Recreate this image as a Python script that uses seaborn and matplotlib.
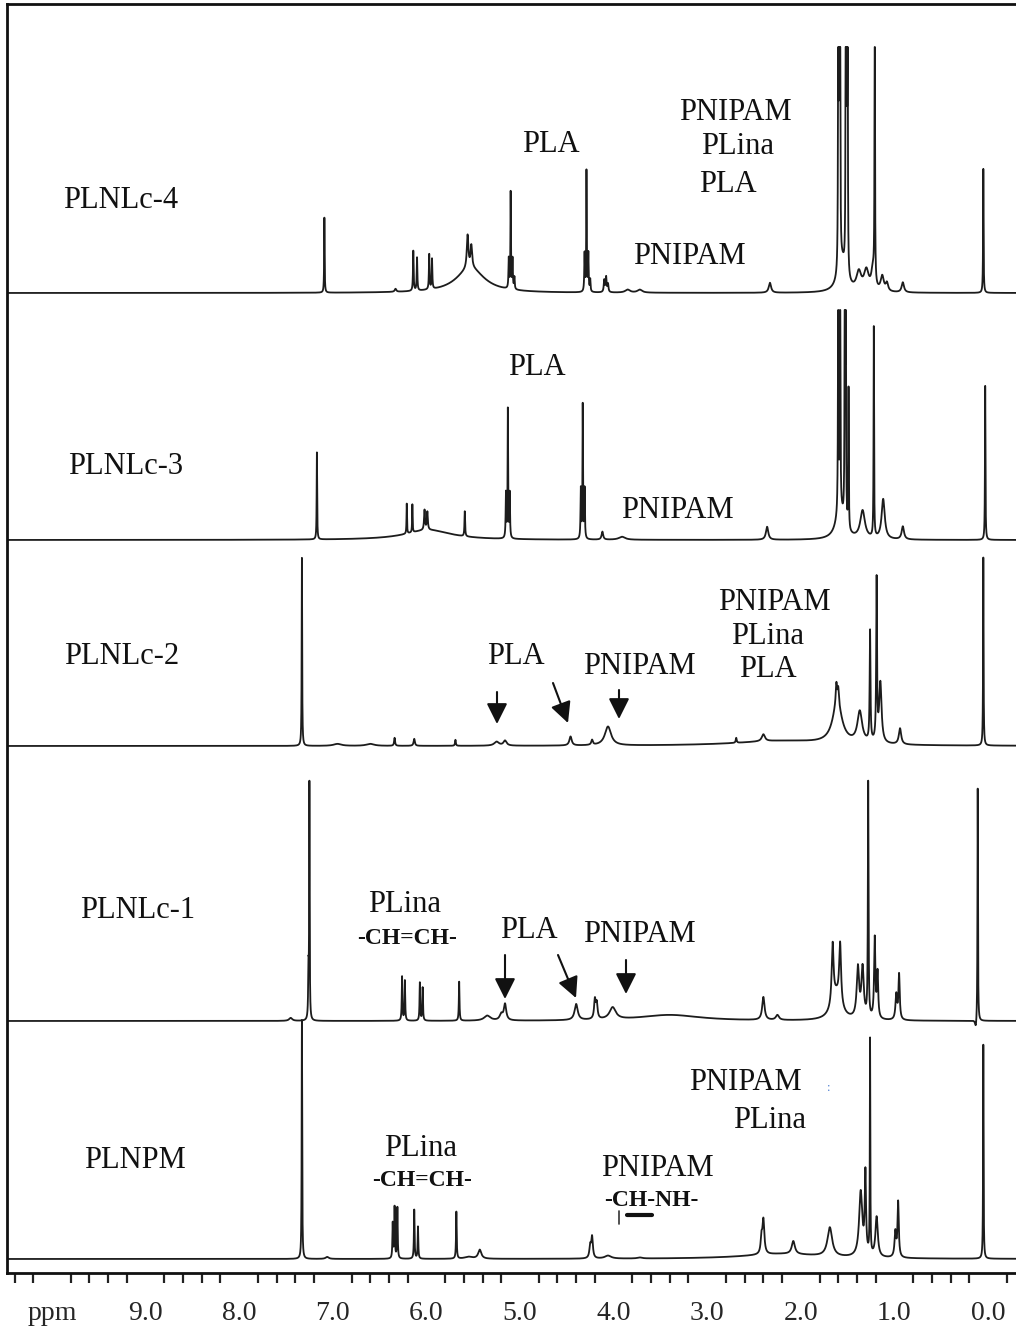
import numpy as np
import pandas as pd
import matplotlib
matplotlib.use("Agg")
import matplotlib.pyplot as plt
from matplotlib.ticker import MultipleLocator
from matplotlib.lines import Line2D
import seaborn as sns

# ---------------- data ----------------
sample_names = ["PLNLc-4", "PLNLc-3", "PLNLc-2", "PLNLc-1", "PLNPM"]

# PLNLc-4 : peak position (ppm), height (a.u.), half width (ppm)
s1_pos = [7.09, 6.33, 6.14, 6.10, 5.97, 5.94, 5.53, 5.56, 5.52, 5.12, 5.10, 5.08, 5.06,
          4.31, 4.29, 4.27, 4.25, 4.10, 4.08, 4.06, 3.85, 3.72, 2.33,
          1.60, 1.59, 1.58, 1.52, 1.51, 1.50, 1.56, 1.38, 1.30, 1.23, 1.21, 1.13, 1.08,
          0.91, 0.05]
s1_h = [75, 3, 40, 33, 35, 30, 25, 33, 22, 30, 96, 30, 12,
        38, 120, 38, 12, 12, 15, 8, 3, 3, 10,
        300, 300, 300, 300, 300, 300, 30, 18, 20, 20, 300, 15, 8,
        10, 124]
s1_w = [0.003, 0.01, 0.004, 0.004, 0.004, 0.004, 0.18, 0.01, 0.01, 0.004, 0.003, 0.004, 0.004,
        0.004, 0.003, 0.004, 0.004, 0.006, 0.006, 0.006, 0.03, 0.03, 0.015,
        0.003, 0.003, 0.003, 0.003, 0.003, 0.003, 0.05, 0.03, 0.03, 0.02, 0.003, 0.02, 0.015,
        0.015, 0.003]

# PLNLc-3
s2_pos = [7.17, 6.21, 6.15, 5.98, 6.02, 5.99, 5.59, 5.15, 5.13, 5.11, 4.35, 4.33, 4.31,
          4.12, 3.91, 2.36, 1.60, 1.58, 1.53, 1.52, 1.49, 1.58, 1.34, 1.22, 1.12, 0.91, 0.03]
s2_h = [87, 30, 28, 10, 20, 18, 25, 45, 128, 45, 50, 133, 50,
        8, 3, 13, 300, 300, 300, 300, 140, 30, 28, 210, 40, 13, 154]
s2_w = [0.003, 0.003, 0.003, 0.3, 0.006, 0.006, 0.004, 0.004, 0.003, 0.004, 0.004, 0.003, 0.004,
        0.01, 0.04, 0.015, 0.003, 0.003, 0.003, 0.003, 0.003, 0.05, 0.03, 0.003, 0.02, 0.015, 0.003]

# PLNLc-2
s3_pos = [7.33, 6.95, 6.60, 6.34, 6.13, 5.69, 5.25, 5.16, 4.46, 4.23, 4.06, 2.69, 2.40,
          2.20, 1.61, 1.62, 1.60, 1.37, 1.26, 1.19, 1.15, 0.94, 0.05]
s3_h = [188, 2, 2, 8, 7, 6, 4, 5, 9, 5, 19, 5, 7,
        5, 40, 20, 15, 31, 110, 160, 60, 16, 188]
s3_w = [0.003, 0.05, 0.05, 0.006, 0.008, 0.005, 0.03, 0.02, 0.015, 0.01, 0.04, 0.006, 0.02,
        0.6, 0.06, 0.008, 0.008, 0.03, 0.005, 0.005, 0.015, 0.015, 0.003]

# PLNLc-1
s4_pos = [7.25, 7.26, 7.45, 6.26, 6.23, 6.07, 6.04, 5.65, 5.35, 5.20, 5.16, 4.40, 4.20,
          4.18, 4.01, 3.40, 2.40, 2.25, 1.66, 1.58, 1.62, 1.39, 1.34, 1.28, 1.21, 1.18,
          0.98, 0.95, 0.11, 0.13]
s4_h = [234, 45, 3, 44, 40, 38, 33, 39, 5, 6, 16, 16, 19,
        15, 12, 6, 23, 5, 60, 60, 25, 50, 50, 234, 80, 45,
        25, 45, 234, -9]
s4_w = [0.003, 0.004, 0.02, 0.004, 0.004, 0.004, 0.004, 0.004, 0.04, 0.02, 0.015, 0.02, 0.01,
        0.01, 0.04, 0.4, 0.015, 0.02, 0.012, 0.012, 0.06, 0.015, 0.015, 0.004, 0.008, 0.008,
        0.01, 0.008, 0.003, 0.01]

# PLNPM
s5_pos = [7.33, 7.33, 7.06, 6.36, 6.34, 6.31, 6.13, 6.09, 5.68, 5.55, 5.43, 4.25, 4.23,
          4.06, 3.72, 2.42, 2.40, 2.20, 2.08, 1.69, 1.36, 1.31, 1.26, 1.19, 0.99, 0.96, 0.05]
s5_h = [214, 25, 2, 35, 51, 51, 49, 32, 47, 2, 9, 12, 21,
        3, 1, 15, 34, 5, 13, 29, 65, 80, 214, 40, 25, 55, 214]
s5_w = [0.003, 0.004, 0.02, 0.004, 0.004, 0.004, 0.004, 0.004, 0.004, 0.05, 0.02, 0.01, 0.01,
        0.04, 0.03, 0.01, 0.012, 0.5, 0.02, 0.03, 0.02, 0.008, 0.003, 0.015, 0.01, 0.008, 0.003]

tick_values = [10, 9, 8, 7, 6, 5, 4, 3, 2, 1, 0]
tick_labels = ["ppm", "9.0", "8.0", "7.0", "6.0", "5.0", "4.0", "3.0", "2.0", "1.0", "0.0"]

# ---------------- build spectra ----------------
ppm = np.linspace(10.6, -0.6, 22401)


def spectrum(pos, h, w):
    y = np.zeros_like(ppm)
    for p, a, g in zip(pos, h, w):
        y += a * g ** 2 / ((ppm - p) ** 2 + g ** 2)
    return y


spectra = [spectrum(s1_pos, s1_h, s1_w), spectrum(s2_pos, s2_h, s2_w),
           spectrum(s3_pos, s3_h, s3_w), spectrum(s4_pos, s4_h, s4_w),
           spectrum(s5_pos, s5_h, s5_w)]

# display settings: vertical stacking offsets and plot cut-off level of each trace
offsets = [980, 733, 527, 252, 14]
cutoffs = [246, 230, None, None, None]

frames = []
for name, sp, off, cut in zip(sample_names, spectra, offsets, cutoffs):
    if cut is not None:
        sp = np.minimum(sp, cut)
    frames.append(pd.DataFrame({"ppm": ppm, "y": sp + off, "sample": name}))
df = pd.concat(frames, ignore_index=True)

# ---------------- figure ----------------
sns.set_style("white")
plt.rcParams["font.family"] = ["Liberation Serif", "DejaVu Serif"]

W, H = 1016, 1327
fig = plt.figure(figsize=(W / 100, H / 100), dpi=100)
ax = fig.add_axes([7 / W, (H - 1273) / H, (1040 - 7) / W, (1273 - 4) / H])

for name in sample_names:
    sub = df[df["sample"] == name]
    sns.lineplot(data=sub, x="ppm", y="y", ax=ax, color="#1c1c1c", linewidth=1.3,
                 estimator=None, sort=False, legend=False)

ax.set_xlim((988 - 7) / 93.6, (988 - 1040) / 93.6)
ax.set_ylim(0, 1269)
ax.set_xlabel("")
ax.set_ylabel("")
ax.set_yticks([])
ax.set_xticks(tick_values)
ax.set_xticklabels(tick_labels)
ax.xaxis.set_minor_locator(MultipleLocator(0.2))
ax.tick_params(axis="x", which="major", direction="out", length=15, width=2.2,
               labelsize=20, pad=5, color="#222222")
ax.tick_params(axis="x", which="minor", direction="out", length=7, width=1.6,
               color="#222222", bottom=True)
for side in ["top", "left", "bottom"]:
    ax.spines[side].set_linewidth(2.0)
    ax.spines[side].set_color("#111111")
ax.spines["right"].set_visible(False)


def ftext(x, y, s, size=22, **kw):
    fig.text(x / W, 1 - y / H, s, ha="center", va="center", fontsize=size,
             color="#111111", **kw)


# sample names
ftext(121, 201, "PLNLc-4")
ftext(126, 467, "PLNLc-3")
ftext(122, 657, "PLNLc-2")
ftext(138, 910, "PLNLc-1")
ftext(135, 1161, "PLNPM")

# panel 1 annotations
ftext(551, 145, "PLA")
ftext(735, 113, "PNIPAM")
ftext(738, 147, "PLina")
ftext(728, 185, "PLA")
ftext(689, 257, "PNIPAM")

# panel 2
ftext(537, 367, "PLA")
ftext(677, 510, "PNIPAM")

# panel 3
ftext(516, 657, "PLA")
ftext(639, 666, "PNIPAM")
ftext(774, 603, "PNIPAM")
ftext(768, 637, "PLina")
ftext(768, 669, "PLA")

# panel 4
ftext(405, 905, "PLina")
ftext(407, 938, "-CH=CH-", size=17, fontweight="bold")
ftext(529, 930, "PLA")
ftext(639, 934, "PNIPAM")

# panel 5
ftext(421, 1149, "PLina")
ftext(422, 1181, "-CH=CH-", size=17, fontweight="bold")
ftext(745, 1083, "PNIPAM")
ftext(770, 1120, "PLina")
ftext(657, 1168, "PNIPAM")
ftext(651, 1200, "-CH-NH-", size=17, fontweight="bold")
fig.text(829 / W, 1 - 1088 / H, ":", ha="center", va="center", fontsize=9, color="#4a7bd0")

# underline and bond tick in -CH-NH-
fig.add_artist(Line2D([627 / W, 652 / W], [1 - 1215 / H, 1 - 1215 / H],
                      color="#111111", lw=3))
fig.add_artist(Line2D([619 / W, 619 / W], [1 - 1211 / H, 1 - 1224 / H],
                      color="#333333", lw=1.2))


# arrows (figure pixel coordinates)
def farrow(x0, y0, x1, y1):
    ax.annotate("", xy=(x1 / W, 1 - y1 / H), xycoords="figure fraction",
                xytext=(x0 / W, 1 - y0 / H), textcoords="figure fraction",
                arrowprops=dict(arrowstyle="-|>,head_length=0.7,head_width=0.35",
                                color="#111111", lw=1.5, shrinkA=0, shrinkB=0,
                                mutation_scale=18))


farrow(497, 692, 497, 724)
farrow(553, 683, 568, 723)
farrow(619, 690, 619, 719)
farrow(505, 955, 505, 999)
farrow(558, 955, 576, 998)
farrow(626, 960, 626, 994)

fig.savefig("out.png", dpi=100)
